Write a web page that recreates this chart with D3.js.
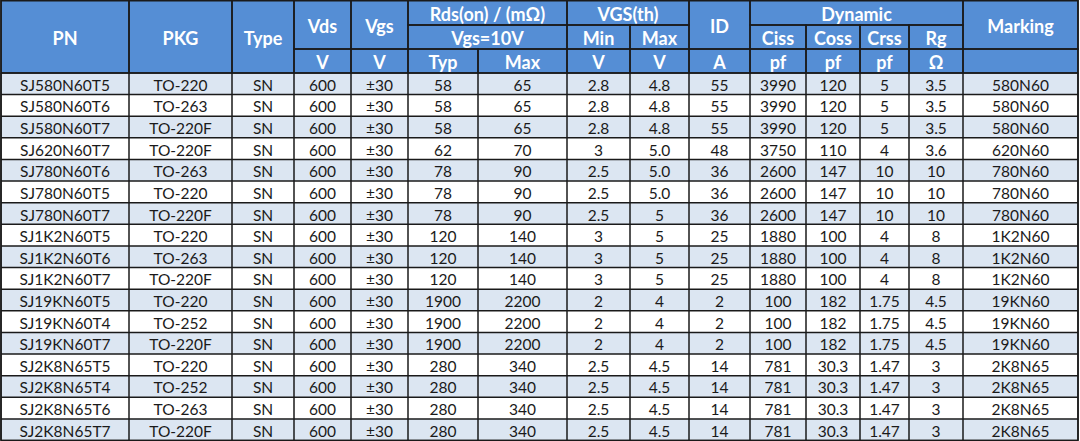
<!DOCTYPE html>
<html>
<head>
<meta charset="utf-8">
<script src="https://cdn.jsdelivr.net/npm/d3@7"></script>
<style>
  html, body { margin: 0; padding: 0; background: #fff; }
  svg { display: block; }
</style>
</head>
<body>
<div id="tableLoc"></div>
<script>
// table values, one list per column
const pn = ["SJ580N60T5","SJ580N60T6","SJ580N60T7","SJ620N60T7","SJ780N60T6","SJ780N60T5","SJ780N60T7",
    "SJ1K2N60T5","SJ1K2N60T6","SJ1K2N60T7","SJ19KN60T5","SJ19KN60T4","SJ19KN60T7",
    "SJ2K8N65T5","SJ2K8N65T4","SJ2K8N65T6","SJ2K8N65T7"];
const pkg = ["TO-220","TO-263","TO-220F","TO-220F","TO-263","TO-220","TO-220F",
    "TO-220","TO-263","TO-220F","TO-220","TO-252","TO-220F",
    "TO-220","TO-252","TO-263","TO-220F"];
const type = Array(17).fill("SN");
const vds = Array(17).fill("600");
const vgs = Array(17).fill("±30");
const rdsTyp = ["58","58","58","62","78","78","78","120","120","120","1900","1900","1900","280","280","280","280"];
const rdsMax = ["65","65","65","70","90","90","90","140","140","140","2200","2200","2200","340","340","340","340"];
const vthMin = ["2.8","2.8","2.8","3","2.5","2.5","2.5","3","3","3","2","2","2","2.5","2.5","2.5","2.5"];
const vthMax = ["4.8","4.8","4.8","5.0","5.0","5.0","5","5","5","5","4","4","4","4.5","4.5","4.5","4.5"];
const idA = ["55","55","55","48","36","36","36","25","25","25","2","2","2","14","14","14","14"];
const ciss = ["3990","3990","3990","3750","2600","2600","2600","1880","1880","1880","100","100","100","781","781","781","781"];
const coss = ["120","120","120","110","147","147","147","100","100","100","182","182","182","30.3","30.3","30.3","30.3"];
const crss = ["5","5","5","4","10","10","10","4","4","4","1.75","1.75","1.75","1.47","1.47","1.47","1.47"];
const rg = ["3.5","3.5","3.5","3.6","10","10","10","8","8","8","4.5","4.5","4.5","3","3","3","3"];
const marking = ["580N60","580N60","580N60","620N60","780N60","780N60","780N60","1K2N60","1K2N60","1K2N60",
    "19KN60","19KN60","19KN60","2K8N65","2K8N65","2K8N65","2K8N65"];

const columns = [pn, pkg, type, vds, vgs, rdsTyp, rdsMax, vthMin, vthMax, idA, ciss, coss, crss, rg, marking];

// header cells: text, first col, col span, first header row, row span
const headerCells = [
    ["PN",0,1,0,3], ["PKG",1,1,0,3], ["Type",2,1,0,3],
    ["Vds",3,1,0,2], ["V",3,1,2,1],
    ["Vgs",4,1,0,2], ["V",4,1,2,1],
    ["Rds(on) / (mΩ)",5,2,0,1], ["Vgs=10V",5,2,1,1], ["Typ",5,1,2,1], ["Max",6,1,2,1],
    ["VGS(th)",7,2,0,1], ["Min",7,1,1,1], ["Max",8,1,1,1], ["V",7,1,2,1], ["V",8,1,2,1],
    ["ID",9,1,0,2], ["A",9,1,2,1],
    ["Dynamic",10,4,0,1], ["Ciss",10,1,1,1], ["Coss",11,1,1,1], ["Crss",12,1,1,1], ["Rg",13,1,1,1],
    ["pf",10,1,2,1], ["pf",11,1,2,1], ["pf",12,1,2,1], ["Ω",13,1,2,1],
    ["Marking",14,1,0,2], ["",14,1,2,1]
];

const width = 1080, height = 441;
const edges = [1,129,232,294,351,408,478,567,630,689,750,806,860,909,963,1078];
const headRows = [0, 25, 49, 73];

const nRows = pn.length;
const y = d3.scaleBand().domain(d3.range(nRows)).range([headRows[3], height - 0.5]);

const svg = d3.select("#tableLoc").append("svg")
    .attr("width", width)
    .attr("height", height)
    .style("font-family", "Lato, 'Open Sans', sans-serif");

// data rows
const rows = svg.append("g").selectAll("g")
    .data(d3.range(nRows))
    .join("g")
    .attr("transform", i => `translate(0,${y(i)})`);

rows.append("rect")
    .attr("x", edges[0])
    .attr("width", edges[edges.length-1] - edges[0])
    .attr("height", y.bandwidth())
    .attr("fill", i => i % 2 === 0 ? "#dce6f2" : "#ffffff");

rows.selectAll("text")
    .data(i => columns.map((col, c) => ({c, v: col[i]})))
    .join("text")
    .attr("x", d => (edges[d.c] + edges[d.c+1]) / 2)
    .attr("y", y.bandwidth() / 2 + 1)
    .attr("text-anchor", "middle")
    .attr("dominant-baseline", "central")
    .attr("fill", "#1a1a1a")
    .style("font-size", "15.5px")
    .text(d => d.v);

// header
const head = svg.append("g");
head.append("rect")
    .attr("x", edges[0]).attr("y", 0)
    .attr("width", edges[edges.length-1] - edges[0])
    .attr("height", headRows[3])
    .attr("fill", "#558ed5");

head.selectAll("rect.cell")
    .data(headerCells)
    .join("rect")
    .attr("class", "cell")
    .attr("x", d => edges[d[1]])
    .attr("y", d => headRows[d[3]])
    .attr("width", d => edges[d[1]+d[2]] - edges[d[1]])
    .attr("height", d => headRows[d[3]+d[4]] - headRows[d[3]])
    .attr("fill", "none")
    .attr("stroke", "#1a1a1a")
    .attr("stroke-width", 1.5);

head.selectAll("text")
    .data(headerCells)
    .join("text")
    .attr("x", d => (edges[d[1]] + edges[d[1]+d[2]]) / 2)
    .attr("y", d => (headRows[d[3]] + headRows[d[3]+d[4]]) / 2 + 1)
    .attr("text-anchor", "middle")
    .attr("dominant-baseline", "central")
    .attr("fill", "#ffffff")
    .style("font-size", "18px")
    .style("font-weight", "bold")
    .text(d => d[0]);

// grid lines for the body
const grid = svg.append("g")
    .attr("stroke", "#1a1a1a")
    .attr("stroke-width", 1.5);

grid.selectAll("line.h")
    .data(d3.range(nRows + 1))
    .join("line")
    .attr("class", "h")
    .attr("x1", edges[0]).attr("x2", edges[edges.length-1])
    .attr("y1", i => i < nRows ? y(i) : height - 0.5)
    .attr("y2", i => i < nRows ? y(i) : height - 0.5);

grid.selectAll("line.v")
    .data(edges)
    .join("line")
    .attr("class", "v")
    .attr("x1", d => d).attr("x2", d => d)
    .attr("y1", headRows[3]).attr("y2", height - 0.5);

// outer frame
svg.append("rect")
    .attr("x", edges[0]).attr("y", 0.75)
    .attr("width", edges[edges.length-1] - edges[0])
    .attr("height", height - 1.25)
    .attr("fill", "none")
    .attr("stroke", "#1a1a1a")
    .attr("stroke-width", 1.5);
</script>
</body>
</html>
